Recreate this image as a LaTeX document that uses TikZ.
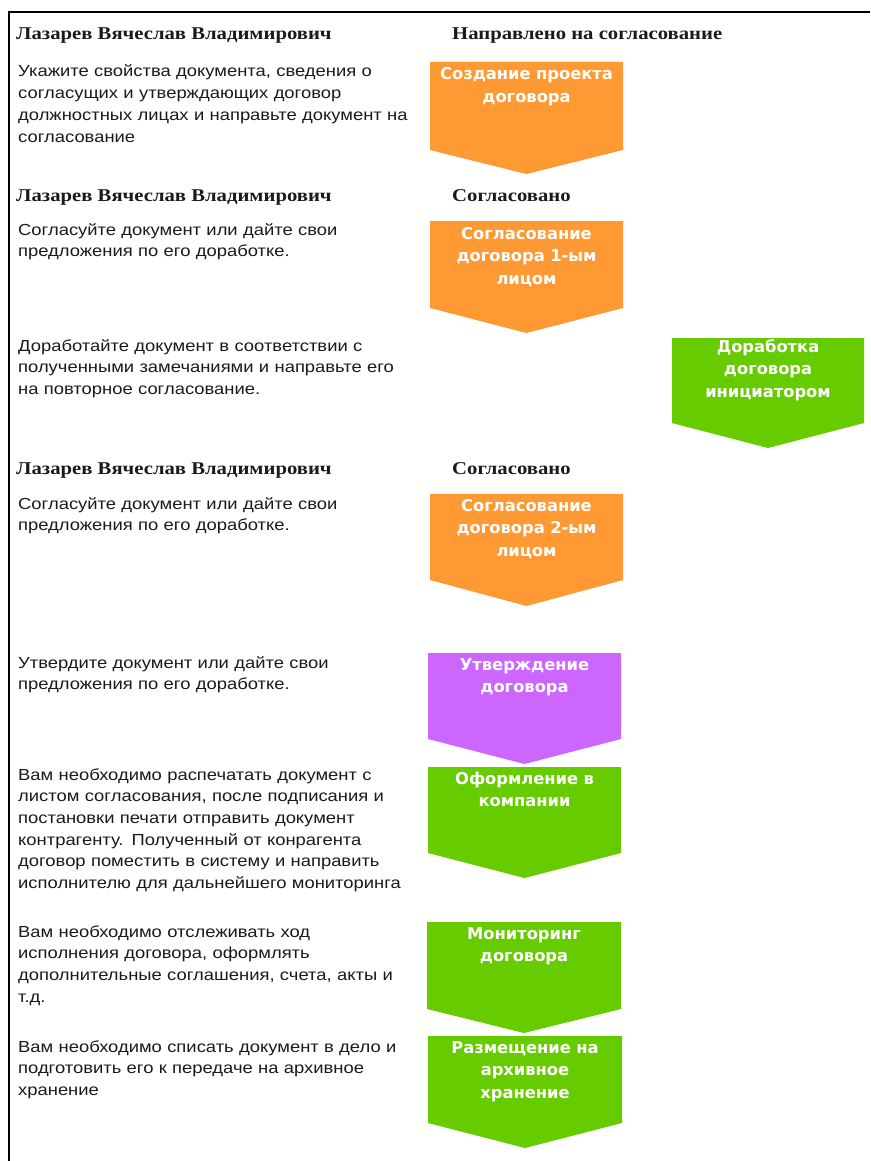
\documentclass[tikz,border=0pt]{standalone}
\usepackage{fontspec}
\setmainfont[FakeStretch=1.15]{Liberation Sans}
\newfontfamily\hdrfont[FakeStretch=1.15]{Liberation Serif}
\newfontfamily\boxfont{DejaVu Sans}
\definecolor{orangeA}{HTML}{FF9933}
\definecolor{greenA}{HTML}{66CC00}
\definecolor{purpleA}{HTML}{CC66FF}
\definecolor{bodytext}{HTML}{1A1A1A}
% name, colour, left, right, top, side bottom, point
\newcommand{\chevshape}[7]{%
  \fill[#2] (#3,#5) -- (#4,#5) -- (#4,#6) -- ({(#3+#4)/2},#7) -- (#3,#6) -- cycle;
  \coordinate (#1) at ({(#3+#4)/2},#5);
}
\begin{document}
\begin{tikzpicture}[x=1pt,y=-1pt,
  body/.style={anchor=base west,inner sep=0pt,text width=430pt,align=left,
    font=\fontsize{16}{21.7}\selectfont,text=bodytext},
  hdr/.style={anchor=base west,inner sep=0pt,text=bodytext,
    font=\hdrfont\bfseries\fontsize{18}{20}\selectfont},
  boxtxt/.style={anchor=base,inner sep=0pt,text width=200pt,align=center,text=white,
    font=\boxfont\bfseries\fontsize{16.3}{22.5}\selectfont},
]
\useasboundingbox (0,0) rectangle (870,1161);
\draw[line width=2pt] (8.5,1161) -- (8.5,12) -- (870,12);

% chevron shapes
\chevshape{c1}{orangeA}{430}{623}{62}{150}{174}
\chevshape{c2}{orangeA}{430}{623}{221}{308}{333}
\chevshape{c3}{greenA}{672}{864}{338}{423}{448}
\chevshape{c4}{orangeA}{430}{623}{494}{580}{606}
\chevshape{c5}{purpleA}{428}{621}{653}{739}{764}
\chevshape{c6}{greenA}{428}{621}{767}{853}{878}
\chevshape{c7}{greenA}{427}{621}{922}{1009}{1033}
\chevshape{c8}{greenA}{428}{622}{1036}{1123}{1148}

% chevron labels
\node[boxtxt] (t1) at (526.5,80) {Создание проекта\\договора};
\node[boxtxt] (t2) at (526.5,239) {Согласование\\договора 1-ым\\лицом};
\node[boxtxt] (t3) at (768,352) {Доработка\\договора\\инициатором};
\node[boxtxt] (t4) at (526.5,511) {Согласование\\договора 2-ым\\лицом};
\node[boxtxt] (t5) at (524.5,670) {Утверждение\\договора};
\node[boxtxt] (t6) at (524.5,784) {Оформление в\\компании};
\node[boxtxt] (t7) at (524,939) {Мониторинг\\договора};
\node[boxtxt] (t8) at (525,1053) {Размещение на\\архивное\\хранение};

% headers
\node[hdr] (h1) at (16,40) {Лазарев Вячеслав Владимирович};
\node[hdr] (s1) at (452,40) {Направлено на согласование};
\node[hdr] (h2) at (16,201) {Лазарев Вячеслав Владимирович};
\node[hdr] (s2) at (452,201) {Согласовано};
\node[hdr] (h3) at (16,474) {Лазарев Вячеслав Владимирович};
\node[hdr] (s3) at (452,474) {Согласовано};

% instructions
\node[body] (p1) at (18,77) {Укажите свойства документа, сведения о\\согласущих и утверждающих договор\\должностных лицах и направьте документ на\\согласование};
\node[body] (p2) at (18,235) {Согласуйте документ или дайте свои\\предложения по его доработке.};
\node[body] (p3) at (18,351) {Доработайте документ в соответствии с\\полученными замечаниями и направьте его\\на повторное согласование.};
\node[body] (p4) at (18,509) {Согласуйте документ или дайте свои\\предложения по его доработке.};
\node[body] (p5) at (18,668) {Утвердите документ или дайте свои\\предложения по его доработке.};
\node[body] (p6) at (18,780) {Вам необходимо распечатать документ с\\листом согласования, после подписания и\\постановки печати отправить документ\\контрагенту. Полученный от конрагента\\договор поместить в систему и направить\\исполнителю для дальнейшего мониторинга};
\node[body] (p7) at (18,937) {Вам необходимо отслеживать ход\\исполнения договора, оформлять\\дополнительные соглашения, счета, акты и\\т.д.};
\node[body] (p8) at (18,1052) {Вам необходимо списать документ в дело и\\подготовить его к передаче на архивное\\хранение};
\end{tikzpicture}
\end{document}
